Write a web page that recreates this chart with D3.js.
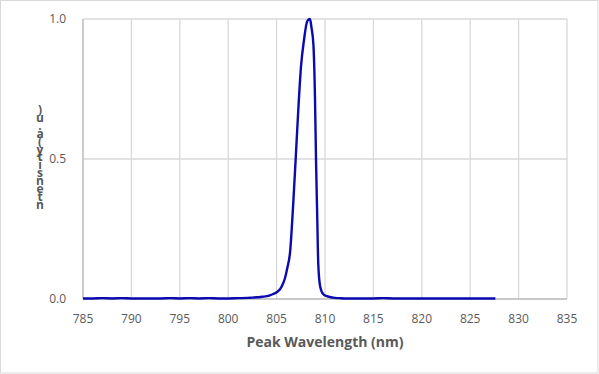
<!DOCTYPE html>
<html><head><meta charset="utf-8">
<script src="https://cdn.jsdelivr.net/npm/d3@7"></script>
<style>body{margin:0;background:#fff}svg{display:block}text{font-family:"Open Sans","Liberation Sans",sans-serif}</style>
</head><body><div id="c"></div>
<script>
const wavelength = [785,786,787,788,789,790,791,792,793,794,795,796,797,798,799,800,801,802,802.5,803,803.5,804,804.3,804.6,805,805.35,805.6,805.87,806.1,806.4,806.7,806.97,807.24,807.52,807.83,808.1,808.3,808.45,808.6,808.8,808.97,809.07,809.2,809.3,809.5,809.83,810.2,810.5,811,811.5,812,813,814,815,816,817,818,819,820,821,822,823,824,825,826,827,827.6];
const intensity = [0.002,0.002,0.003,0.002,0.003,0.002,0.002,0.002,0.002,0.003,0.002,0.003,0.002,0.003,0.002,0.002,0.003,0.004,0.005,0.006,0.008,0.01,0.013,0.017,0.024,0.035,0.05,0.075,0.11,0.17,0.33,0.5,0.675,0.83,0.925,0.985,0.998,1.0,0.97,0.91,0.71,0.5,0.29,0.13,0.045,0.017,0.01,0.007,0.004,0.003,0.002,0.002,0.002,0.002,0.003,0.002,0.002,0.002,0.002,0.002,0.002,0.002,0.002,0.002,0.002,0.002,0.002];
const xTicks = [785,790,795,800,805,810,815,820,825,830,835];
const yTicks = [0,0.5,1.0];
const xTitle = "Peak Wavelength (nm)";
const yTitleChars = [")","u",".","a","(","y","t","i","s","n","e","t","n"];

const W=599,H=374;
const svg=d3.select("#c").append("svg").attr("width",W).attr("height",H);
svg.append("rect").attr("x",0.5).attr("y",0.5).attr("width",W-1.5).attr("height",H-1.5).attr("fill","#fff").attr("stroke","#d9d9d9");
const x=d3.scaleLinear().domain([785,835]).range([83,567]);
const y=d3.scaleLinear().domain([0,1]).range([299,19]);
const grid="#d9d9d9";
svg.append("g").selectAll("line").data(xTicks).join("line")
 .attr("x1",d=>x(d)).attr("x2",d=>x(d)).attr("y1",19).attr("y2",299).attr("stroke",grid).attr("stroke-width",1.3);
svg.append("g").selectAll("line").data(yTicks).join("line")
 .attr("x1",83).attr("x2",567).attr("y1",d=>y(d)).attr("y2",d=>y(d)).attr("stroke",grid).attr("stroke-width",1.3);
svg.append("line").attr("x1",83).attr("x2",567).attr("y1",299).attr("y2",299).attr("stroke","#bfbfbf").attr("stroke-width",1.3);
svg.append("line").attr("x1",83).attr("x2",83).attr("y1",19).attr("y2",299).attr("stroke","#bfbfbf").attr("stroke-width",1.3);
const tc="#595959";
svg.append("g").selectAll("text").data(xTicks).join("text")
 .attr("x",d=>x(d)).attr("y",323).attr("text-anchor","middle").attr("fill",tc).attr("font-size",12).text(d=>d);
svg.append("g").selectAll("text").data(yTicks).join("text")
 .attr("x",66).attr("y",d=>y(d)+4).attr("text-anchor","end").attr("fill",tc).attr("font-size",12).text(d=>d.toFixed(1));
svg.append("text").attr("x",325).attr("y",347).attr("text-anchor","middle").attr("fill",tc).attr("font-size",14).attr("font-weight","bold").text(xTitle);
const yt=svg.append("text").attr("fill",tc).attr("font-size",12).attr("font-weight","bold").attr("text-anchor","middle");
yTitleChars.forEach((c,i)=>yt.append("tspan").attr("x",40).attr("y",114+i*7.9).text(c));
const line=d3.line().x(d=>x(d[0])).y(d=>y(d[1])).curve(d3.curveMonotoneX);
svg.append("path").datum(wavelength.map((w,i)=>[w,intensity[i]])).attr("d",line)
 .attr("fill","none").attr("stroke","#0a0ab0").attr("stroke-width",2.4).attr("stroke-linejoin","round");
</script></body></html>
